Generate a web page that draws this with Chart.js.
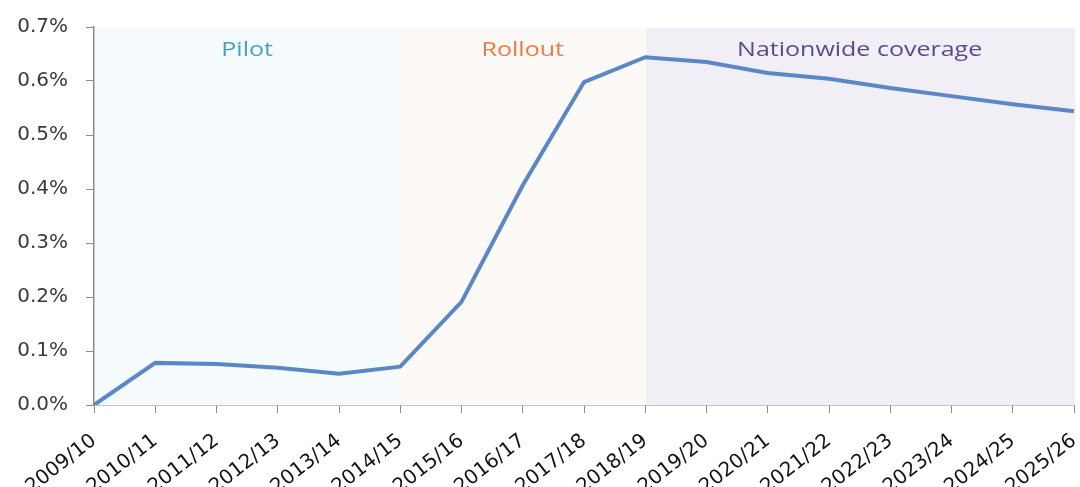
<!DOCTYPE html>
<html>
<head>
<meta charset="utf-8">
<script src="https://cdn.jsdelivr.net/npm/chart.js@4/dist/chart.umd.min.js"></script>
<style>
  html, body { margin: 0; padding: 0; background: #fff; overflow: hidden; }
  #wrap { width: 1080px; height: 487px; }
</style>
</head>
<body>
<div id="wrap"><canvas id="chart"></canvas></div>
<script>
// categories and values (percent)
const years = ['2009/10', '2010/11', '2011/12', '2012/13', '2013/14', '2014/15', '2015/16', '2016/17',
  '2017/18', '2018/19', '2019/20', '2020/21', '2021/22', '2022/23', '2023/24', '2024/25', '2025/26'];
const share = [0, 0.078, 0.076, 0.069, 0.058, 0.071, 0.191, 0.407, 0.598, 0.644,
  0.635, 0.615, 0.604, 0.587, 0.572, 0.557, 0.544];

// phases: name, start / end index into years
const phaseNames = ['Pilot', 'Rollout', 'Nationwide coverage'];
const phaseStart = [0, 5, 9];
const phaseEnd = [5, 9, 16];
const phaseFill = ['#f5fafc', '#fdf9f6', '#f1eef5'];
const phaseText = ['#4a9fc6', '#ef7a45', '#5b4a8e'];

// y axis ticks
const yMin = 0, yMax = 0.7, yStep = 0.1;

const phasePlugin = {
  id: 'phases',
  beforeDatasetsDraw(chart) {
    const { ctx, chartArea, scales } = chart;
    const x = scales.x;
    ctx.save();
    phaseNames.forEach((name, i) => {
      const x0 = x.getPixelForValue(phaseStart[i]);
      const x1 = x.getPixelForValue(phaseEnd[i]);
      ctx.fillStyle = phaseFill[i];
      ctx.fillRect(x0 + 1, chartArea.top + 1, x1 - x0, chartArea.bottom - chartArea.top - 1);
      // labels look horizontally stretched in the original
      ctx.save();
      ctx.translate((x0 + x1) / 2, chartArea.top + 23);
      ctx.scale(1.25, 1);
      ctx.fillStyle = phaseText[i];
      ctx.font = '20px "Open Sans", Lato, sans-serif';
      ctx.textAlign = 'center';
      ctx.textBaseline = 'middle';
      ctx.fillText(name, 0, 0);
      ctx.restore();
    });
    ctx.restore();
  }
};

new Chart(document.getElementById('chart'), {
  type: 'line',
  data: {
    labels: years,
    datasets: [{
      data: share,
      borderColor: '#5a88c6',
      borderWidth: 4,
      pointRadius: 0,
      tension: 0,
      fill: false
    }]
  },
  options: {
    responsive: true,
    maintainAspectRatio: false,
    animation: false,
    layout: { padding: { top: 27, right: 6, left: 0, bottom: 0 } },
    plugins: { legend: { display: false }, tooltip: { enabled: false } },
    scales: {
      x: {
        offset: false,
        grid: { drawOnChartArea: false, color: '#8c8c8c', tickLength: 8 },
        border: { color: '#8c8c8c', width: 1.5 },
        ticks: {
          color: '#151515',
          font: { family: '"DejaVu Sans", sans-serif', size: 20 },
          maxRotation: 38, minRotation: 38, autoSkip: false, padding: 16
        },
        afterFit(scale) {
          scale.height = 82;
          scale.paddingLeft = 0;
          scale.paddingRight = 0;
        }
      },
      y: {
        min: yMin, max: yMax,
        grid: { drawOnChartArea: false, color: '#8c8c8c', tickLength: 8 },
        border: { color: '#8c8c8c', width: 1.5 },
        ticks: {
          stepSize: yStep,
          color: '#3a3a3a',
          font: { family: '"DejaVu Sans", sans-serif', size: 20 },
          padding: 18,
          callback: v => v.toFixed(1) + '%'
        },
        afterFit(scale) {
          scale.width = 94;
          scale.paddingTop = 0;
          scale.paddingBottom = 0;
        }
      }
    }
  },
  plugins: [phasePlugin]
});
</script>
</body>
</html>
